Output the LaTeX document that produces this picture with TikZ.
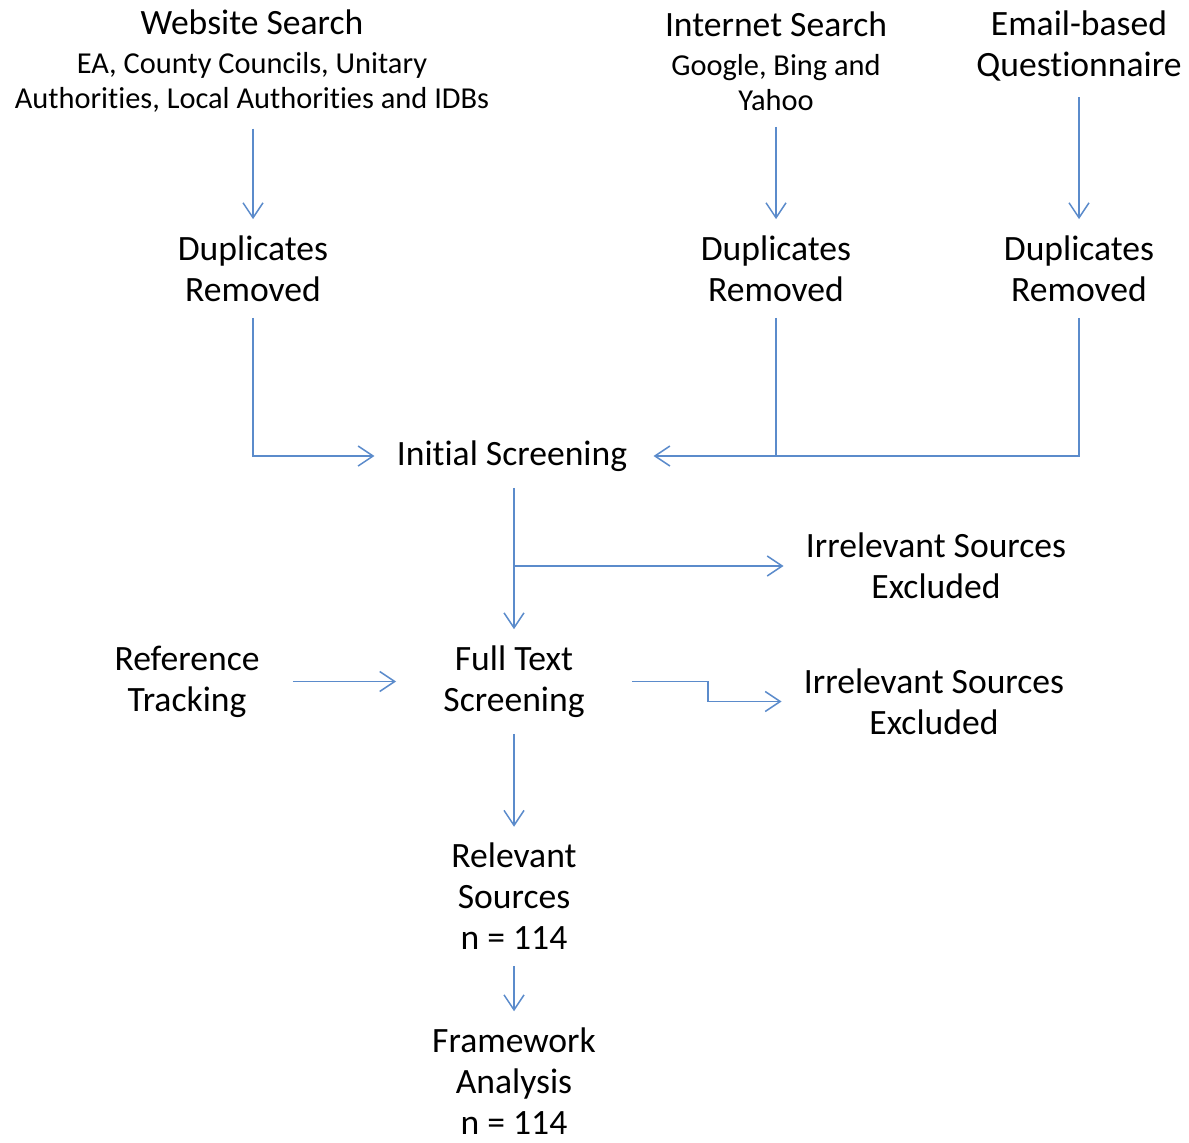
\documentclass[tikz,border=0pt]{standalone}
\usepackage{fontspec}
\setmainfont{Carlito}[Ligatures=NoCommon]
\usepackage{tikz}
\usetikzlibrary{arrows.meta, positioning, calc}

\begin{document}
\begin{tikzpicture}[x=0.5pt, y=-0.5pt,
    etapa/.style={align=center, inner xsep=11pt, inner ysep=8pt, font=\fontsize{17.8}{20.5}\selectfont},
    fluxo/.style={draw=linha, line width=0.75pt, -{Straight Barb[length=7.5pt, width=10pt]}},
    traco/.style={draw=linha, line width=0.75pt}]
% --- CORES E FONTE DO SUBTITULO ---
\definecolor{linha}{HTML}{5B8BCB}
\newcommand{\subfonte}{\fontsize{15.2}{17.5}\selectfont}
\useasboundingbox (0,0) rectangle (1189,1142);

% LAYER 1: Fontes de busca
\node[etapa] (web) at (252,61) {Website Search\\[-1pt]{\subfonte EA, County Councils, Unitary}\\[-3pt]{\subfonte Authorities, Local Authorities and IDBs}};
\node[etapa] (internet) at (776,61) {Internet Search\\[-1pt]{\subfonte Google, Bing and}\\[-3pt]{\subfonte Yahoo}};
\node[etapa] (email) at (1079,45.5) {Email-based\\Questionnaire};

% LAYER 2: Duplicados removidos
\node[etapa] (dupW) at (253,268.5) {Duplicates\\Removed};
\node[etapa] (dupI) at (776,268.5) {Duplicates\\Removed};
\node[etapa] (dupE) at (1079,268.5) {Duplicates\\Removed};

\draw[fluxo] (dupW.north |- web.south) -- (dupW.north);
\draw[fluxo] (internet.south -| dupI.north) -- (dupI.north);
\draw[fluxo] (email.south) -- (email.south |- dupE.north);

% LAYER 3: Triagem
\node[etapa] (init) at (512,456) {Initial Screening};
\node[etapa] (irr1) at (936,566) {Irrelevant Sources\\Excluded};
\node[etapa] (full) at (514,681.5) {Full Text\\Screening};
\node[etapa] (ref) at (187,681.5) {Reference\\Tracking};
\node[etapa] (irr2) at (934,701.5) {Irrelevant Sources\\Excluded};
\coordinate (ramo) at (514,566);

\draw[fluxo] (dupW.south) |- (init.west);
\draw[traco] (dupI.south) -- (dupI.south |- init.east);
\draw[fluxo] (dupE.south) |- ([xshift=2pt]init.east);
\draw[fluxo] (full.north |- init.south) -- (full.north);
\draw[fluxo] (ramo) -- (irr1.west);
\draw[fluxo] ([xshift=5.5pt]ref.east) -- ([xshift=-12.5pt]full.west);
\draw[fluxo] ([xshift=12.5pt]full.east) -- ++(38pt,0) |- (irr2.west);

% LAYER 4: Resultado
\node[etapa] (rel) at (514,896.5) {Relevant\\Sources\\n = 114};
\node[etapa] (frame) at (514,1081) {Framework\\Analysis\\n = 114};

\draw[fluxo] (full.south) -- (rel.north);
\draw[fluxo] (rel.south) -- (frame.north);
\end{tikzpicture}
\end{document}
